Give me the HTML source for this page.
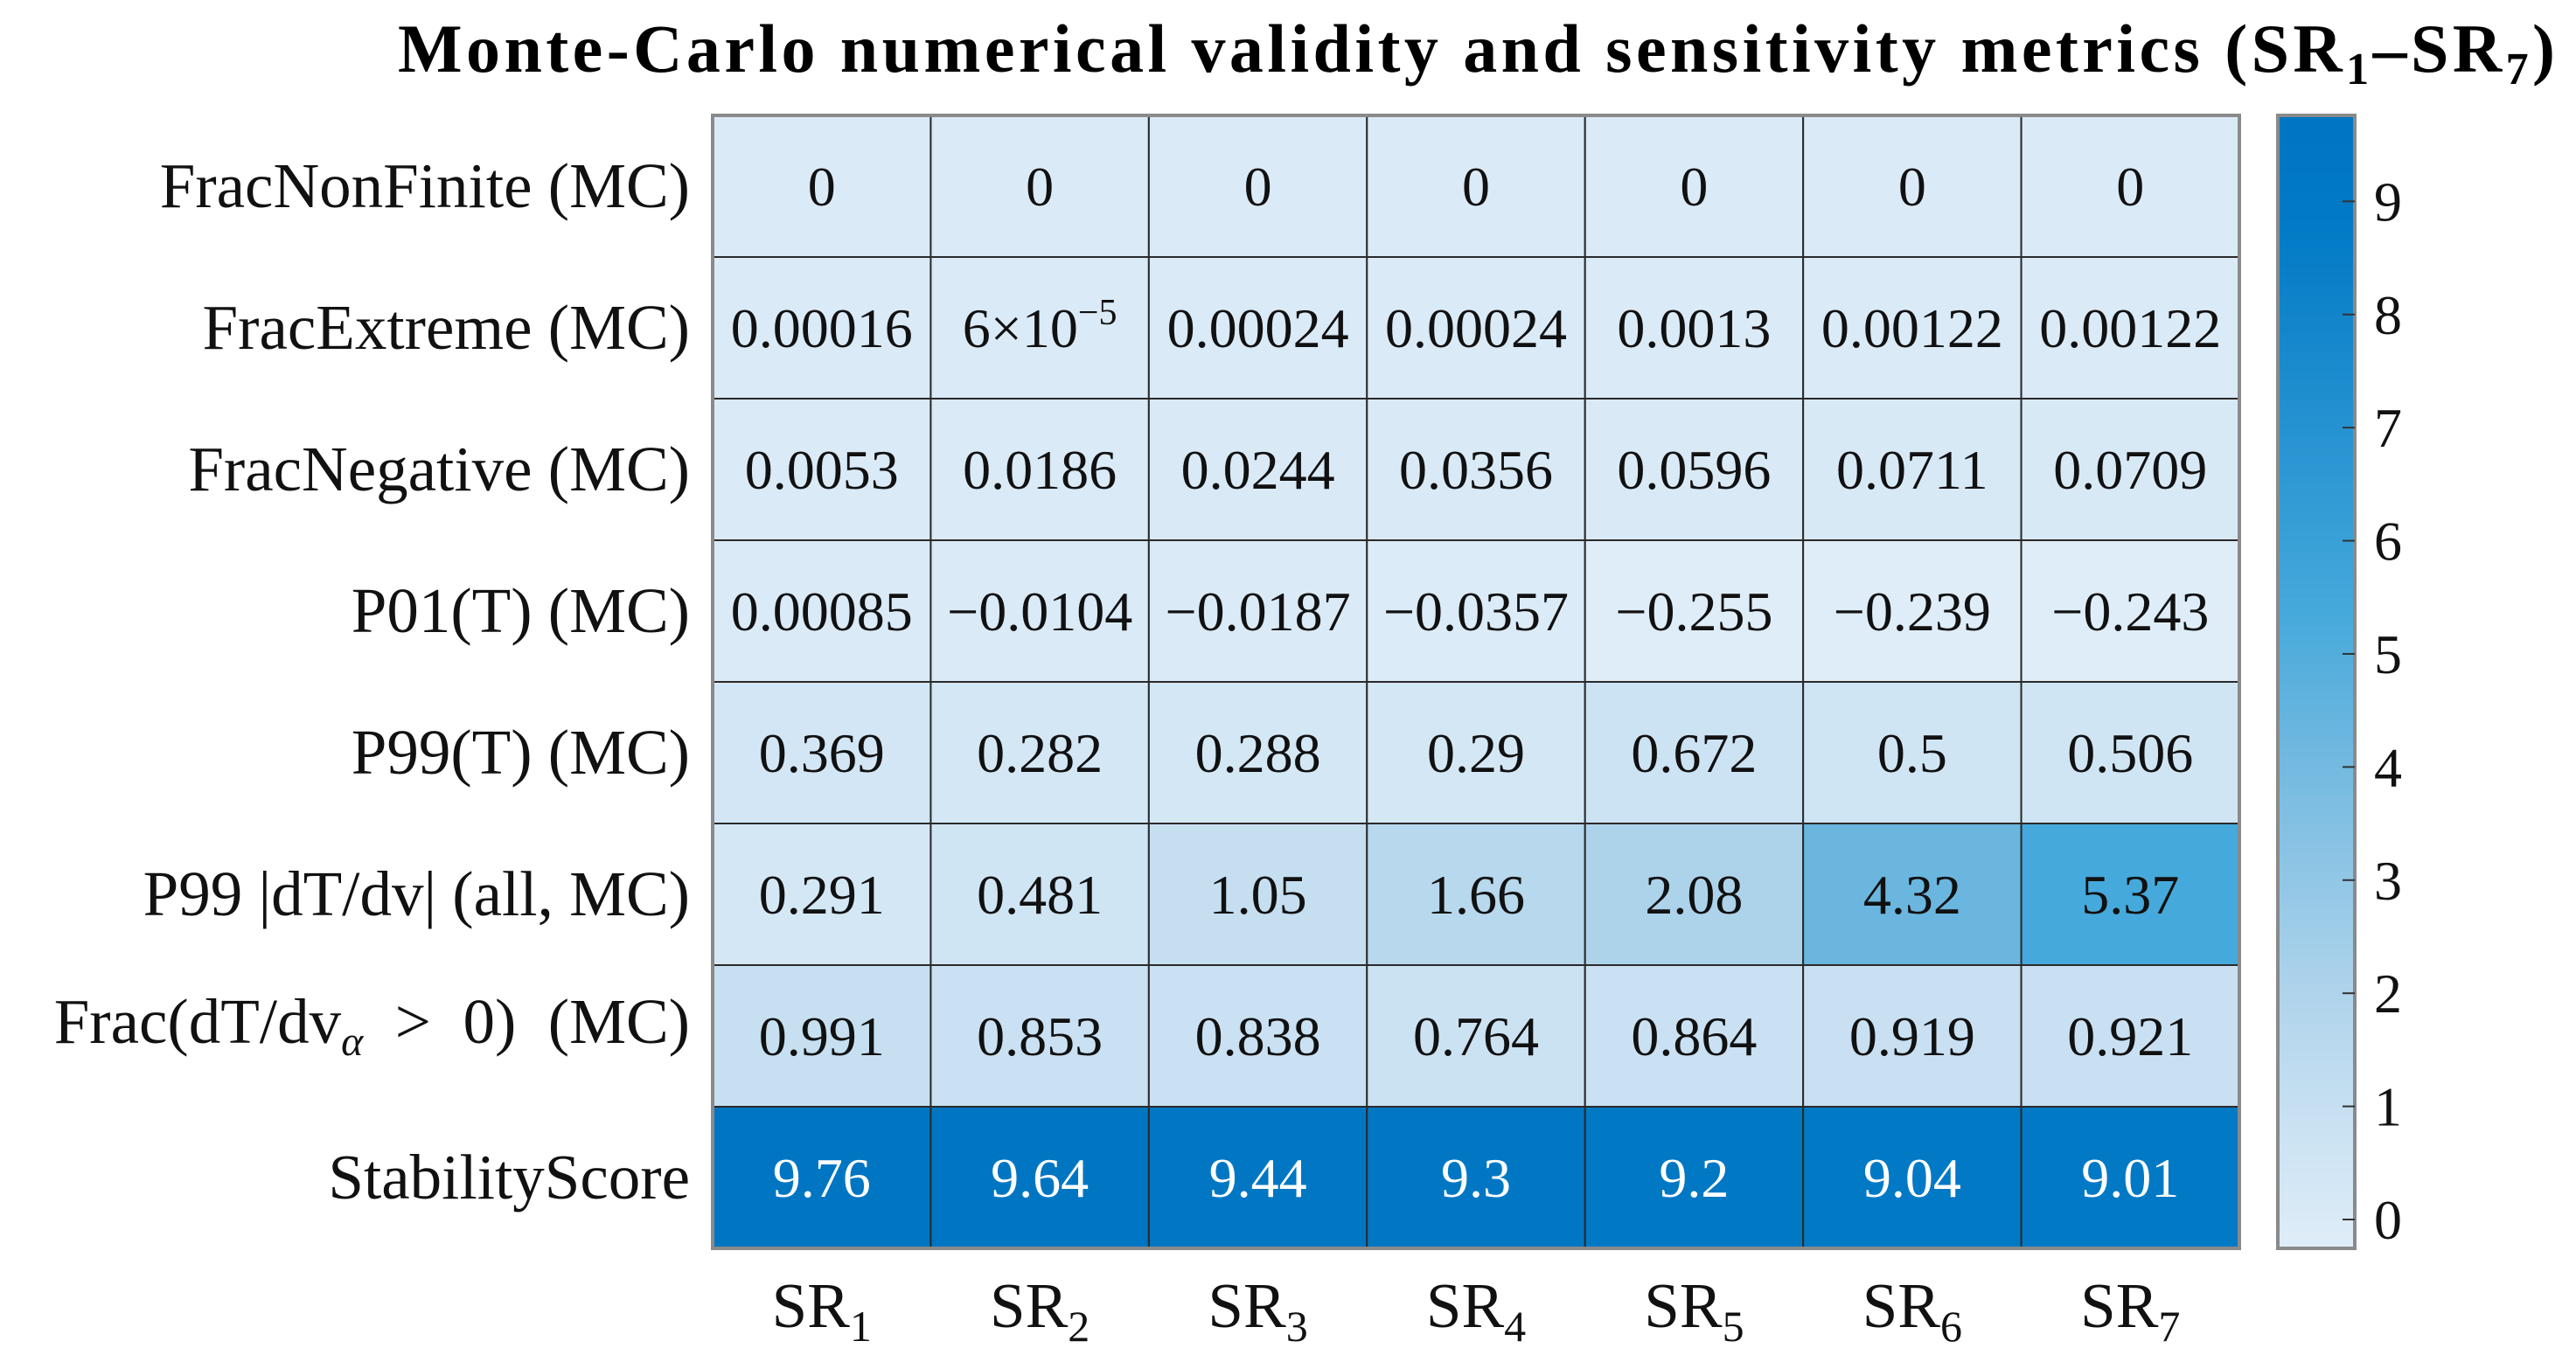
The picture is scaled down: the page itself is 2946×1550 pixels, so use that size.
<!DOCTYPE html>
<html><head><meta charset="utf-8"><style>
html,body{margin:0;padding:0;background:#fff;}
svg, svg text{font-family:"Liberation Serif","Times New Roman","DejaVu Serif",serif;}
svg{display:block;}
</style></head><body>
<svg id="chart" width="2946" height="1550" viewBox="0 0 2946 1550" xmlns="http://www.w3.org/2000/svg" font-family="Liberation Serif, serif">
<text x="455" y="82" font-size="78" font-weight="bold" font-family="Liberation Serif, serif" textLength="2467" lengthAdjust="spacing">Monte-Carlo  numerical  validity  and  sensitivity  metrics  (SR<tspan font-size="52" dy="14">1</tspan><tspan dy="-14">–SR</tspan><tspan font-size="52" dy="14">7</tspan><tspan dy="-14">)</tspan></text>
<g id="cells"></g>
<g id="rowlabels"></g>
<g id="collabels"></g>
<g id="cbar"></g>
</svg>
<script>
const columns = ["1","2","3","4","5","6","7"];
const rowLabels = ["FracNonFinite (MC)","FracExtreme (MC)","FracNegative (MC)","P01(T) (MC)","P99(T) (MC)","P99 |dT/dv| (all, MC)","FRACALPHA","StabilityScore"];
const rowNonFinite = [0,0,0,0,0,0,0];
const rowExtreme = [0.00016,0.00006,0.00024,0.00024,0.0013,0.00122,0.00122];
const rowNegative = [0.0053,0.0186,0.0244,0.0356,0.0596,0.0711,0.0709];
const rowP01 = [0.00085,-0.0104,-0.0187,-0.0357,-0.255,-0.239,-0.243];
const rowP99 = [0.369,0.282,0.288,0.29,0.672,0.5,0.506];
const rowDeriv = [0.291,0.481,1.05,1.66,2.08,4.32,5.37];
const rowFracPos = [0.991,0.853,0.838,0.764,0.864,0.919,0.921];
const rowStability = [9.76,9.64,9.44,9.3,9.2,9.04,9.01];
const cbarTicks = [0,1,2,3,4,5,6,7,8,9];

const NS="http://www.w3.org/2000/svg";
const FONT="Liberation Serif, Times New Roman, serif";
const rows=[rowNonFinite,rowExtreme,rowNegative,rowP01,rowP99,rowDeriv,rowFracPos,rowStability];
const L=815,R=2561,T=132,B=1428;
const cw=(R-L)/columns.length, rh=(B-T)/rows.length;
const all=rows.flat();
const vmin=Math.min(...all), vmax=Math.max(...all);
const stops=[[0,[223,237,248]],[0.13,[197,223,241]],[0.23,[174,211,235]],[0.455,[107,182,223]],[0.56,[70,169,219]],[0.9,[2,122,198]],[1,[0,117,194]]];
function color(v){
  let t=(v-vmin)/(vmax-vmin); t=Math.max(0,Math.min(1,t));
  for(let i=1;i<stops.length;i++){ if(t<=stops[i][0]){const a=stops[i-1],b=stops[i];const f=(t-a[0])/(b[0]-a[0]);
    return 'rgb('+a[1].map((c,k)=>Math.round(c+(b[1][k]-c)*f)).join(',')+')';}}
  return 'rgb(0,117,194)';
}
function fmt(v){
  if(v===0) return "0";
  if(Math.abs(v)<0.0001) return "EXP";
  let s=String(+v.toPrecision(3));
  if(v<0) s="\u2212"+s.slice(1);
  return s;
}
function mk(tag,attrs,parent){const e=document.createElementNS(NS,tag);for(const k in attrs)e.setAttribute(k,attrs[k]);if(tag==='text')e.setAttribute('font-family',FONT);parent.appendChild(e);return e;}
const gc=document.getElementById('cells');
rows.forEach((row,r)=>{
  row.forEach((v,c)=>{
    const x=L+c*cw,y=T+r*rh;
    const rect=mk('rect',{x:x,y:y,width:cw,height:rh,fill:color(v),stroke:'#2a2a2a','stroke-width':2},gc);
    
    
    const t=mk('text',{x:x+cw/2,y:y+rh/2+22,'text-anchor':'middle','font-size':64,fill:(v>7?'#fff':'#111')},gc);
    
    
    const s=fmt(v);
    if(s==="EXP"){
      const m=Math.round(v/Math.pow(10,Math.floor(Math.log10(v)))); const e=Math.floor(Math.log10(v));
      t.textContent=m+"\u00d710";
      const sp=mk('tspan',{'font-size':42,dy:-26},t); sp.textContent="\u2212"+Math.abs(e);
    } else t.textContent=s;
  });
});
mk('rect',{x:L,y:T,width:R-L,height:B-T,fill:'none',stroke:'#8a8a8a','stroke-width':4},gc);
const gr=document.getElementById('rowlabels');
rowLabels.forEach((lab,r)=>{
  const t=mk('text',{x:789,y:T+r*rh+rh/2+24,'text-anchor':'end','font-size':73,fill:'#111'},gr);
  
  
  if(lab==="FRACALPHA"){
    t.setAttribute('y',T+r*rh+rh/2+8);
    t.textContent="Frac(dT/dv";
    const a=mk('tspan',{'font-size':48,'font-style':'italic',dy:14},t);a.textContent="\u03b1";
    const b=mk('tspan',{dy:-14},t);b.textContent="\u00a0 > \u00a00) \u00a0(MC)";
  } else t.textContent=lab;
});
const gx=document.getElementById('collabels');
columns.forEach((c,i)=>{
  const t=mk('text',{x:L+i*cw+cw/2,y:1518,'text-anchor':'middle','font-size':73,fill:'#111'},gx);
  
  
  t.textContent="SR";
  const s=mk('tspan',{'font-size':50,dy:16},t); s.textContent=c;
});
const gb=document.getElementById('cbar');
const CL=2605,CR=2693;
function cy(v){return B-(v-vmin)/(vmax-vmin)*(B-T);}
const N=120;
for(let i=0;i<N;i++){
  const v0=vmin+(vmax-vmin)*i/N, v1=vmin+(vmax-vmin)*(i+1)/N;
  const r=mk('rect',{x:CL,y:cy(v1),width:CR-CL,height:cy(v0)-cy(v1)+0.8,fill:color((v0+v1)/2)},gb);
  
  
}
const fr=mk('rect',{x:CL,y:T,width:CR-CL,height:B-T,fill:'none',stroke:'#8a8a8a','stroke-width':4},gb);


cbarTicks.forEach(v=>{
  mk('line',{x1:CR-14,x2:CR,y1:cy(v),y2:cy(v),stroke:'#333','stroke-width':2},gb);
  const t=mk('text',{x:2715,y:cy(v)+22,'font-size':64,fill:'#111'},gb);
  
  
  t.textContent=v;
});
</script>
</body></html>
